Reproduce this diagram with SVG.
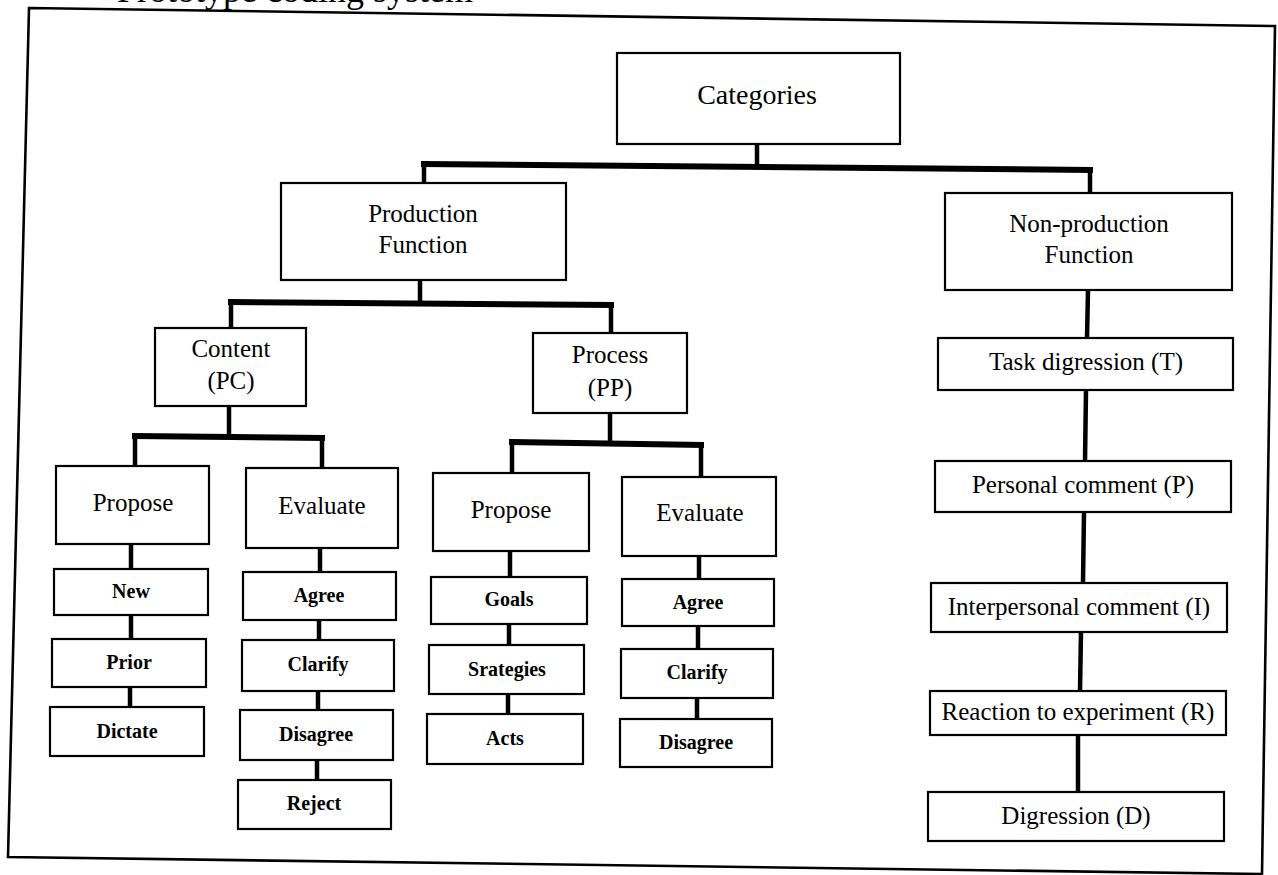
<svg xmlns="http://www.w3.org/2000/svg" width="1278" height="875" viewBox="0 0 1278 875">
<style>
  .box { fill: #fff; stroke: #000; stroke-width: 2.2; }
  .lbl { font-family: "Liberation Serif", "Times New Roman", serif; font-size: 25px; fill: #000; text-anchor: middle; }
  .big { font-size: 28px; }
  .sm { font-size: 20px; font-weight: bold; }
  .bar { stroke: #000; stroke-width: 6; fill: none; stroke-linecap: square; }
  .con { stroke: #000; stroke-width: 4.5; fill: none; }
  .frame { fill: none; stroke: #000; stroke-width: 2.6; }
</style>
<rect x="0" y="0" width="1278" height="875" fill="#fff"/>
<text x="473" y="2" text-anchor="end" font-family="Liberation Serif, serif" font-size="36">Prototype coding system</text>
<polygon class="frame" points="29,8 1275,26 1262,874 8,857"/>

<g id="connectors">
  <line class="con" x1="757" y1="144" x2="757" y2="167"/>
  <line class="bar" x1="424" y1="164" x2="1090" y2="170"/>
  <line class="con" x1="424" y1="164" x2="424" y2="183"/>
  <line class="con" x1="1090" y1="170" x2="1090" y2="193"/>

  <line class="con" x1="420" y1="280" x2="420" y2="303"/>
  <line class="bar" x1="231" y1="302" x2="611" y2="305"/>
  <line class="con" x1="231" y1="302" x2="231" y2="328"/>
  <line class="con" x1="611" y1="305" x2="611" y2="333"/>

  <line class="con" x1="229" y1="406" x2="229" y2="437"/>
  <line class="bar" x1="135" y1="436" x2="322" y2="438"/>
  <line class="con" x1="135" y1="436" x2="135" y2="466"/>
  <line class="con" x1="322" y1="438" x2="322" y2="468"/>

  <line class="con" x1="610" y1="413" x2="610" y2="442"/>
  <line class="bar" x1="512" y1="442" x2="701" y2="445"/>
  <line class="con" x1="512" y1="442" x2="512" y2="473"/>
  <line class="con" x1="701" y1="445" x2="701" y2="477"/>

  <line class="con" x1="131" y1="544" x2="131" y2="569"/>
  <line class="con" x1="131" y1="615" x2="131" y2="639"/>
  <line class="con" x1="130" y1="687" x2="130" y2="707"/>

  <line class="con" x1="320" y1="548" x2="320" y2="572"/>
  <line class="con" x1="319" y1="620" x2="319" y2="640"/>
  <line class="con" x1="318" y1="691" x2="318" y2="710"/>
  <line class="con" x1="317" y1="760" x2="317" y2="780"/>

  <line class="con" x1="510" y1="551" x2="510" y2="577"/>
  <line class="con" x1="509" y1="624" x2="509" y2="645"/>
  <line class="con" x1="508" y1="694" x2="508" y2="714"/>

  <line class="con" x1="699" y1="556" x2="699" y2="579"/>
  <line class="con" x1="698" y1="626" x2="698" y2="649"/>
  <line class="con" x1="697" y1="698" x2="697" y2="719"/>

  <line class="con" x1="1088" y1="290" x2="1087" y2="338"/>
  <line class="con" x1="1086" y1="390" x2="1085" y2="461"/>
  <line class="con" x1="1084" y1="512" x2="1083" y2="583"/>
  <line class="con" x1="1081" y1="632" x2="1080" y2="691"/>
  <line class="con" x1="1078" y1="735" x2="1078" y2="792"/>
</g>

<g id="categories">
  <rect class="box" x="617" y="53" width="283" height="91"/>
  <text class="lbl big" x="757" y="104">Categories</text>
</g>
<g id="production">
  <rect class="box" x="281" y="183" width="285" height="97"/>
  <text class="lbl" x="423" y="222">Production</text>
  <text class="lbl" x="423" y="253">Function</text>
</g>
<g id="nonproduction">
  <rect class="box" x="945" y="193" width="287" height="97"/>
  <text class="lbl" x="1089" y="232">Non-production</text>
  <text class="lbl" x="1089" y="263">Function</text>
</g>
<g id="content">
  <rect class="box" x="155" y="328" width="151" height="78"/>
  <text class="lbl" x="231" y="357">Content</text>
  <text class="lbl" x="231" y="389">(PC)</text>
</g>
<g id="process">
  <rect class="box" x="533" y="333" width="154" height="80"/>
  <text class="lbl" x="610" y="363">Process</text>
  <text class="lbl" x="610" y="396">(PP)</text>
</g>
<g id="propose-pc">
  <rect class="box" x="56" y="466" width="153" height="78"/>
  <text class="lbl" x="133" y="511">Propose</text>
</g>
<g id="evaluate-pc">
  <rect class="box" x="246" y="468" width="152" height="80"/>
  <text class="lbl" x="322" y="514">Evaluate</text>
</g>
<g id="propose-pp">
  <rect class="box" x="433" y="473" width="156" height="78"/>
  <text class="lbl" x="511" y="518">Propose</text>
</g>
<g id="evaluate-pp">
  <rect class="box" x="622" y="477" width="154" height="79"/>
  <text class="lbl" x="700" y="521">Evaluate</text>
</g>

<g id="new"><rect class="box" x="54" y="569" width="154" height="46"/><text class="lbl sm" x="131" y="598">New</text></g>
<g id="prior"><rect class="box" x="52" y="639" width="154" height="48"/><text class="lbl sm" x="129" y="669">Prior</text></g>
<g id="dictate"><rect class="box" x="50" y="707" width="154" height="49"/><text class="lbl sm" x="127" y="738">Dictate</text></g>

<g id="agree-pc"><rect class="box" x="243" y="572" width="153" height="48"/><text class="lbl sm" x="319" y="602">Agree</text></g>
<g id="clarify-pc"><rect class="box" x="242" y="640" width="152" height="51"/><text class="lbl sm" x="318" y="671">Clarify</text></g>
<g id="disagree-pc"><rect class="box" x="240" y="710" width="153" height="50"/><text class="lbl sm" x="316" y="741">Disagree</text></g>
<g id="reject"><rect class="box" x="238" y="780" width="153" height="49"/><text class="lbl sm" x="314" y="810">Reject</text></g>

<g id="goals"><rect class="box" x="431" y="577" width="156" height="47"/><text class="lbl sm" x="509" y="606">Goals</text></g>
<g id="strategies"><rect class="box" x="429" y="645" width="155" height="49"/><text class="lbl sm" x="507" y="676">Srategies</text></g>
<g id="acts"><rect class="box" x="427" y="714" width="156" height="50"/><text class="lbl sm" x="505" y="745">Acts</text></g>

<g id="agree-pp"><rect class="box" x="622" y="579" width="152" height="47"/><text class="lbl sm" x="698" y="609">Agree</text></g>
<g id="clarify-pp"><rect class="box" x="621" y="649" width="152" height="49"/><text class="lbl sm" x="697" y="679">Clarify</text></g>
<g id="disagree-pp"><rect class="box" x="620" y="719" width="152" height="48"/><text class="lbl sm" x="696" y="749">Disagree</text></g>

<g id="task"><rect class="box" x="938" y="338" width="295" height="52"/><text class="lbl" x="1086" y="370">Task digression (T)</text></g>
<g id="personal"><rect class="box" x="935" y="461" width="296" height="51"/><text class="lbl" x="1083" y="493">Personal comment (P)</text></g>
<g id="interpersonal"><rect class="box" x="931" y="583" width="296" height="49"/><text class="lbl" x="1079" y="615">Interpersonal comment (I)</text></g>
<g id="reaction"><rect class="box" x="930" y="691" width="296" height="44"/><text class="lbl" x="1078" y="720">Reaction to experiment (R)</text></g>
<g id="digression"><rect class="box" x="928" y="792" width="296" height="49"/><text class="lbl" x="1076" y="824">Digression (D)</text></g>
</svg>
